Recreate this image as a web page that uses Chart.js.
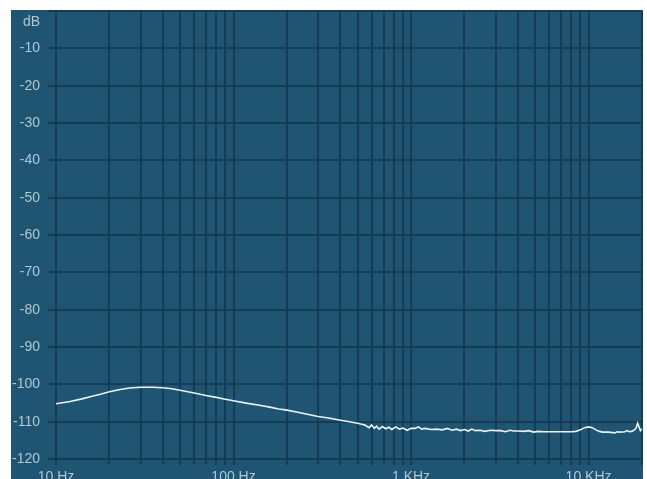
<!DOCTYPE html>
<html>
<head>
<meta charset="utf-8">
<script src="https://cdn.jsdelivr.net/npm/chart.js@4/dist/chart.umd.min.js"></script>
<style>
  html, body { margin: 0; padding: 0; background: #ffffff; overflow: hidden; }
  #wrap { position: absolute; left: 11px; top: 10px; width: 632px; height: 475px; }
</style>
</head>
<body>
<div id="wrap"><canvas id="spec" width="632" height="475"></canvas></div>
<script>
// Frequency points (Hz) of the measured noise floor
const freqs = [
  10, 12, 14, 16, 18, 20, 23, 26, 30, 35, 40, 45, 50, 60, 70, 80, 90,
  100, 120, 140, 160, 180, 200, 230, 260, 300, 350, 400, 450, 500, 550,
  580, 600, 620, 640, 660, 690, 720, 750, 780, 820, 860, 900, 950, 1000,
  1050, 1100, 1150, 1200, 1300, 1400, 1500, 1600, 1700, 1800, 1900, 2000,
  2100, 2200, 2300, 2450, 2600, 2800, 3000, 3200, 3400, 3600, 3800, 4000,
  4300, 4600, 4900, 5200, 5600, 6000, 6500, 7000, 7500, 8000, 8500, 9000,
  9500, 10000, 10500, 11000, 11500, 12000, 13000, 14000, 14500, 15000,
  16000, 16500, 17000, 17500, 18000, 18500, 18900, 19300, 19600, 20000
];

// Level at each frequency (dB)
const levels = [
  -105.2, -104.6, -103.9, -103.2, -102.6, -102.0, -101.4, -101.0, -100.8, -100.8, -100.9, -101.2, -101.6, -102.3, -103.0, -103.5, -104.0,
  -104.4, -105.1, -105.6, -106.1, -106.6, -106.9, -107.5, -108.0, -108.6, -109.1, -109.6, -110.0, -110.4, -110.9,
  -111.6, -110.9, -111.8, -111.2, -112.0, -111.3, -111.9, -111.5, -112.1, -111.4, -112.0, -111.7, -112.3, -111.8,
  -111.8, -111.4, -112.0, -111.8, -112.1, -112.0, -112.2, -111.8, -112.3, -112.0, -112.4, -112.1,
  -112.5, -112.0, -112.4, -112.3, -112.6, -112.3, -112.4, -112.4, -112.7, -112.3, -112.5, -112.5,
  -112.6, -112.4, -112.8, -112.6, -112.7, -112.7, -112.7, -112.7, -112.7, -112.7, -112.6, -112.2,
  -111.6, -111.4, -111.6, -112.2, -112.6, -112.8, -112.8, -113.0, -112.7, -112.8,
  -112.7, -112.4, -112.7, -112.6, -112.3, -111.8, -110.4, -111.6, -112.4, -111.9
];

// Vertical grid positions (every 1-9 step of each decade) and their labels
const gridFreqs = [
  10, 20, 30, 40, 50, 60, 70, 80, 90,
  100, 200, 300, 400, 500, 600, 700, 800, 900,
  1000, 2000, 3000, 4000, 5000, 6000, 7000, 8000, 9000,
  10000, 20000
];
const freqLabels = { 10: '10 Hz', 100: '100 Hz', 1000: '1 KHz', 10000: '10 KHz' };

// Level axis
const dbMin = -120;
const dbMax = 0;
const dbStep = 10;
const dbUnit = 'dB';

const BG = '#1f5472';
const GRID = '#163b54';
const TEXT = '#aec8d6';
const FONT = { family: '"Liberation Sans", Arial, sans-serif', size: 14 };

const background = {
  id: 'background',
  beforeDraw(chart) {
    const ctx = chart.ctx;
    ctx.save();
    ctx.fillStyle = BG;
    ctx.fillRect(0, 0, chart.width, chart.height);
    ctx.restore();
  }
};

// Unit caption placed just below the top (0 dB) line of the level axis
const unitCaption = {
  id: 'unitCaption',
  afterDraw(chart) {
    const y = chart.scales.y;
    const ctx = chart.ctx;
    ctx.save();
    ctx.fillStyle = TEXT;
    ctx.font = FONT.size + 'px ' + FONT.family;
    ctx.textAlign = 'right';
    ctx.textBaseline = 'middle';
    ctx.fillText(dbUnit, y.right - 8 - 8, y.getPixelForValue(dbMax) + 11);
    ctx.restore();
  }
};

new Chart(document.getElementById('spec'), {
  type: 'line',
  data: {
    datasets: [{
      data: freqs.map((f, i) => ({ x: f, y: levels[i] })),
      borderColor: '#e8f3f8',
      borderWidth: 1.6,
      pointRadius: 0,
      tension: 0,
      fill: false
    }]
  },
  options: {
    responsive: false,
    animation: false,
    events: [],
    layout: { padding: { top: 1, right: 1, left: 0, bottom: 0 } },
    plugins: { legend: { display: false }, tooltip: { enabled: false } },
    scales: {
      x: {
        type: 'logarithmic',
        min: 10,
        max: 20000,
        border: { display: false },
        grid: { color: GRID, lineWidth: 2, tickLength: 6, drawTicks: true },
        afterBuildTicks(scale) {
          scale.ticks = gridFreqs.map(v => ({ value: v }));
        },
        ticks: {
          autoSkip: false,
          maxRotation: 0,
          padding: 4,
          color: TEXT,
          font: FONT,
          callback: (v) => freqLabels[v] || ''
        },
        afterFit(scale) {
          scale.height = 26;
          scale.paddingLeft = 0;
          scale.paddingRight = 0;
        }
      },
      y: {
        min: dbMin,
        max: dbMax,
        border: { display: false },
        grid: { color: GRID, lineWidth: 2, tickLength: 8, drawTicks: true },
        ticks: {
          stepSize: dbStep,
          padding: 8,
          color: TEXT,
          font: FONT,
          callback: (v) => v === dbMax ? '' : String(v)
        },
        afterFit(scale) {
          scale.width = 45;
          scale.paddingTop = 0;
          scale.paddingBottom = 0;
        }
      }
    }
  },
  plugins: [background, unitCaption]
});
</script>
</body>
</html>
